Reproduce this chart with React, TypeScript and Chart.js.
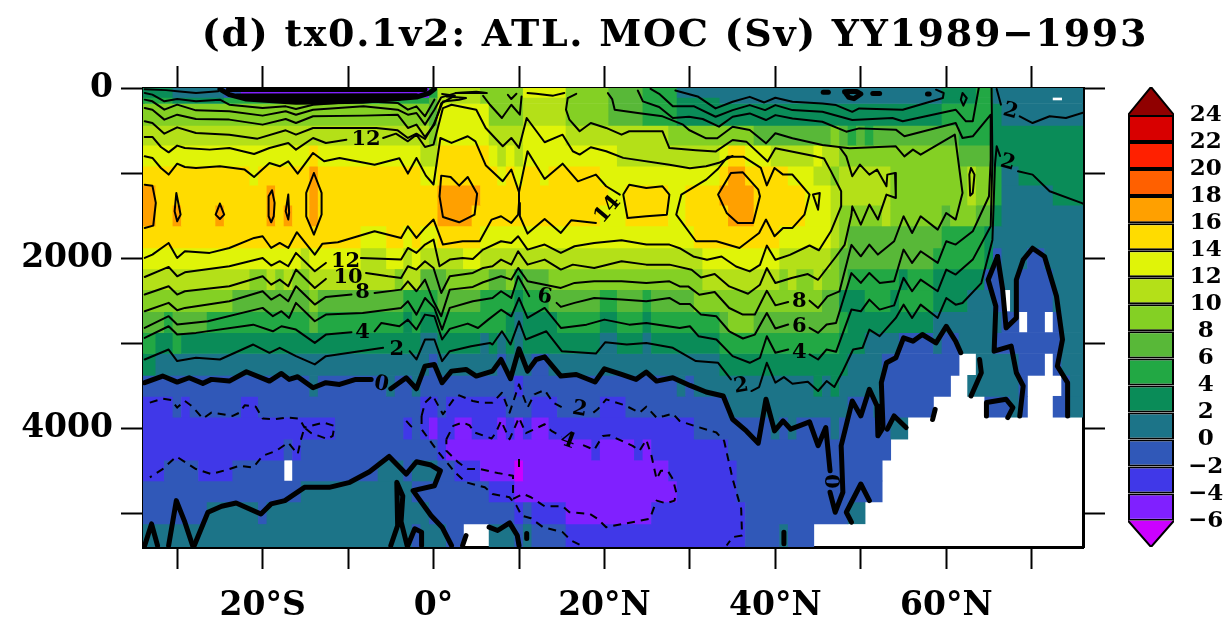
import React, { useEffect, useRef } from "react";
import { Chart, registerables } from "chart.js";

Chart.register(...registerables);

const titleText = "(d) tx0.1v2: ATL. MOC (Sv) YY1989\u22121993";
const lonTicks = [-30, -20, -10, 0, 10, 20, 30, 40, 50, 60, 70];
const lonLabels: Record<string, string> = { "-20": "20°S", "0": "0°", "20": "20°N", "40": "40°N", "60": "60°N" };
const depthTicks = [0, 1000, 2000, 3000, 4000, 5000];
const depthLabels = [0, 2000, 4000];
const colorLevels = [-6, -4, -2, 0, 2, 4, 6, 8, 10, 12, 14, 16, 18, 20, 22, 24];
const bandColors = ["#CC00FF", "#8020FF", "#4038E8", "#3058B8", "#1C7488", "#0A8C58", "#22A844", "#58B838", "#84D024", "#B4E018", "#E0F408", "#FFDC00", "#FFA000", "#FF6000", "#FF2000", "#D80000", "#900000"];

// depth edges of the model rows (m)
const rowEdges = [0, 111, 182, 440, 674, 920, 1143, 1377, 1623, 1881, 2127, 2373, 2631, 2877, 3124, 3381, 3627, 3873, 4131, 4377, 4623, 4870, 5127, 5400];

// each row: runs of [last longitude of the run, overturning value], null = below the sea floor
type Run = [number, number | null];
const rowCells: Run[][] = [
  [[-31,3],[-25,1],[-23,-1],[-1,-5],[0,5],[5,11],[10,9],[15,13],[20,9],[24,7],[28,5],[59,1],[63,3],[65,5],[76,1]],
  [[-31,5],[-25,3],[-1,5],[0,7],[5,11],[10,9],[15,11],[20,9],[24,7],[28,5],[33,3],[59,1],[63,3],[65,5],[76,1]],
  [[-1,9],[0,7],[6,13],[10,9],[15,11],[20,9],[24,7],[28,5],[59,3],[65,5],[66,3],[76,1]],
  [[-1,11],[0,9],[6,13],[10,11],[15,13],[27,11],[37,9],[46,7],[47,9],[48,7],[49,5],[50,7],[51,5],[61,7],[65,5],[76,3]],
  [[-15,13],[-14,15],[-2,13],[0,11],[6,15],[7,13],[8,11],[9,13],[10,11],[21,13],[33,11],[34,13],[36,15],[39,13],[44,11],[45,13],[47,11],[61,9],[65,7],[76,3]],
  [[-22,15],[-21,13],[-15,15],[-14,17],[-2,15],[0,13],[7,15],[8,13],[9,15],[10,13],[12,15],[13,13],[19,15],[33,13],[34,15],[36,17],[41,15],[44,13],[46,11],[47,9],[53,11],[62,9],[63,11],[65,9],[66,5],[68,1],[76,3]],
  [[-33,17],[-20,15],[-19,17],[-15,15],[-14,17],[0,15],[5,17],[20,15],[22,13],[27,15],[29,13],[33,15],[37,17],[43,15],[46,13],[53,11],[62,9],[63,11],[65,9],[66,5],[72,1],[76,3]],
  [[-33,17],[-31,15],[-30,17],[-26,15],[-25,17],[-20,15],[-19,17],[-18,15],[-17,17],[-15,15],[-14,17],[0,15],[4,17],[19,15],[22,13],[27,15],[29,13],[34,15],[37,17],[43,15],[46,13],[47,11],[52,9],[53,11],[59,9],[60,7],[63,9],[65,7],[66,3],[76,1]],
  [[-9,15],[-6,13],[-4,15],[-3,13],[-2,15],[0,13],[5,15],[30,13],[40,15],[46,13],[47,11],[48,9],[59,7],[64,5],[65,3],[76,1]],
  [[-16,13],[-15,11],[-9,13],[-6,11],[-4,13],[-3,11],[-2,13],[3,11],[5,13],[31,11],[40,13],[46,11],[47,9],[58,7],[64,5],[65,3],[66,-1],[69,1],[71,-1],[76,1]],
  [[-22,11],[-20,9],[-19,11],[-18,9],[-17,11],[-15,9],[-5,11],[-4,9],[-2,11],[1,7],[6,9],[8,7],[9,9],[10,5],[13,7],[31,9],[40,11],[41,9],[42,11],[44,9],[45,11],[47,9],[48,7],[54,5],[55,3],[58,5],[64,3],[66,-1],[68,1],[72,-1],[76,1]],
  [[-24,9],[-15,7],[-14,9],[-4,7],[0,5],[5,7],[9,5],[10,3],[13,5],[19,7],[21,5],[24,7],[25,5],[30,7],[45,9],[47,7],[50,3],[53,5],[54,3],[58,5],[62,3],[65,1],[66,-1],[67,null],[68,1],[72,-1],[76,1]],
  [[-32,7],[-31,5],[-27,7],[-15,5],[-14,7],[-4,5],[-3,3],[-2,5],[0,3],[8,5],[9,3],[10,1],[14,3],[19,5],[21,3],[24,5],[25,3],[33,5],[34,7],[37,9],[47,7],[48,5],[58,3],[66,1],[68,-1],[69,null],[71,-1],[72,null],[73,-1],[76,1]],
  [[-33,5],[-31,3],[-30,5],[-2,3],[0,1],[5,3],[6,1],[7,3],[8,1],[9,3],[10,1],[19,3],[21,1],[24,3],[25,1],[33,3],[47,5],[50,3],[54,1],[58,-1],[59,1],[61,-1],[65,1],[73,-1],[76,1]],
  [[-33,3],[-1,1],[0,-1],[7,1],[8,-1],[11,1],[13,-1],[33,1],[48,3],[52,1],[61,-1],[63,null],[68,1],[71,-1],[72,null],[73,-1],[76,1]],
  [[-15,-1],[-14,1],[-6,-1],[-5,1],[-3,-1],[-2,1],[9,-1],[10,-3],[28,-1],[29,1],[30,-1],[44,1],[45,3],[46,1],[47,3],[52,1],[60,-1],[62,null],[68,1],[69,-1],[73,null],[74,-1],[76,1]],
  [[-31,-3],[-30,-1],[-29,-3],[-23,-1],[-21,-3],[-2,-1],[0,-3],[1,-1],[8,-3],[11,-1],[14,-3],[19,-1],[22,-3],[34,-1],[48,1],[51,-1],[52,1],[58,-1],[64,null],[67,-1],[68,1],[69,-1],[72,null],[74,-1],[76,1]],
  [[-12,-3],[-4,-1],[-3,-3],[-2,-1],[-1,-3],[0,-5],[2,-3],[4,-5],[7,-3],[8,-5],[9,-3],[10,-5],[11,-3],[13,-5],[30,-3],[39,-1],[40,1],[41,-1],[42,1],[46,-1],[47,1],[53,-1],[55,1],[76,null]],
  [[-18,-3],[-17,-1],[-16,-3],[0,-1],[1,-3],[18,-5],[19,-3],[23,-5],[24,-3],[25,-5],[34,-3],[53,-1],[76,null]],
  [[-32,-3],[-28,-1],[-24,-3],[-18,-1],[-17,null],[-7,-1],[-4,1],[-3,-1],[0,1],[2,-1],[5,-3],[9,-5],[10,-7],[27,-5],[35,-3],[52,-1],[76,null]],
  [[-16,-1],[-3,1],[6,-1],[9,-3],[28,-5],[35,-3],[52,-1],[76,null]],
  [[-27,-1],[-21,1],[-20,-1],[-1,1],[9,-1],[10,-3],[11,-1],[15,-3],[25,-5],[36,-3],[48,-1],[50,1],[76,null]],
  [[-3,1],[-2,-1],[1,1],[3,-1],[6,null],[9,1],[10,-1],[11,1],[15,-1],[36,-3],[40,-1],[41,1],[44,-1],[76,null]],
];

// a missing sliver near the surface: lon from, lon to, depth
const missingSliver = [72.5, 73.5, 129];

// contour lines as flat [lon, depth, lon, depth, ...]
const solidContours: number[][] = [
  // 14 west of 10N
  [-33.8,804,-32.9,823,-31.9,941,-31,1019,-30,890,-29.1,929,-27.8,941,-25,921,-22.1,960,-21,1047,-19.2,882,-18,921,-17,862,-15.9,1007,-14.1,764,-12.8,862,-11,823,-6.9,902,-4,827,-3,1007,-2,823,-0.9,1031,0,1135,0.8,588,2.1,646,4,568,4.9,627,6.1,908,8.1,1096,9.1,959,10,1225,10,1352,9.9,1490,9.1,1588,7.9,1509,6.8,1548,5.4,1803,3.4,1803,1.1,1842,0.3,1627,0,1548,-1,1646,-2,1764,-3,1627,-3.8,1764,-6.9,1686,-11.2,1815,-13,1831,-13.9,1960,-16,1697,-17,1882,-18,1823,-19,1882,-20,1744,-21,1764,-23.9,1882,-26.2,1940,-29.1,1921,-30,1999,-31,1823,-32.9,1960,-33.8,1999],
  // 14 east of 10N
  [21.8,1254,20.2,1156,19,1019,16.9,1098,15.1,890,13,1070,11,745,10,1225],
  [10,1352,10.1,1509,11,1713,13,1541,14.9,1705,16.1,1556,19,1588],
  [22.2,1254,22.9,1137,24.9,1176,26.8,1156,27.6,1254,27.3,1490,24.9,1509,22.7,1529,22.2,1254],
  [28.4,1490,29,1254,31.9,1078,33.3,950,34.4,810,36.3,810,38.3,939,39,1146,39.9,941,40.9,1019,42,1019,44,1254,43.4,1490,42,1646,40.9,1646,39.9,1744,38.9,1548,38.1,1705,35.8,1882,33.1,1803,30.7,1803,28.4,1490],
  // 16 patches
  [-33.8,1137,-32.9,1149,-32.5,1352,-32.8,1619,-33.8,1646],
  [-30.1,1235,-29.6,1490,-30,1568,-30.3,1450,-30.1,1235],
  [-25,1360,-24.5,1490,-25,1541,-25.5,1490,-25,1360],
  [-18.9,1203,-18.6,1352,-18.7,1509,-19,1580,-19.3,1509,-19.3,1274,-18.9,1203],
  [-17,1254,-16.9,1470,-17,1548,-17.3,1450,-17,1254],
  [-14,1000,-13.1,1235,-13.1,1490,-14,1725,-14.9,1509,-14.9,1235,-14,1000],
  [0.9,1031,2,1047,3,1149,4,1047,5.1,1243,4.8,1490,3,1580,1.1,1517,0.7,1274,0.9,1031],
  [33.3,1254,34.8,1000,36.2,992,38,1196,38.2,1274,37.4,1588,35.6,1588,34.3,1470,33.3,1254],
  [44.4,1254,45.2,1235,45,1431,44.4,1254],
  [62.9,941,63.3,1019,63.1,1235,62.8,1266,62.7,1019,62.9,941],
  // 12
  [-33.8,576,-32.9,576,-31.9,694,-31,757,-30,678,-29.1,706,-26.2,725,-23.9,706,-21,776,-19.2,706,-17,647,-16.1,725,-14.1,588,-12.6,647,-10.2,608],
  [-5.9,588,-4.4,537,-3,627,-2,549,-1,694,0,666,0.8,353,1.1,236,2.1,197,5,255,6.1,470,8.1,685,9.1,588,10,705,10.9,353,13,638,15.1,549,16.3,744,17.1,783,18.4,697,20.2,744,22.2,822,27.6,902,30,945,31.9,920,33.4,880,35,800],
  [16.7,68,15.7,119,15.5,255,15.9,373,17.1,509,18.4,412,20.2,470,22,549,22.9,509,26.8,510,27.6,706,30.7,733,33,748,35,612,36.6,631,39.1,865,40,709,44.8,807,45.7,830,46.5,978,47.7,1215,47.7,1392,46.5,1686,45.1,1909,44,1853,41.7,1963,40,2021,39,1853,38.2,2080,37,2158,35.4,2100,33.7,1982,32,2021,30.4,1982,28.8,1885,27.6,1842,24.9,1842,22,1791,18.8,1823,16.5,1862,14.9,1940,13,1842,11,1901,9.9,1744,9.1,1823,7.9,1803,5.8,1901,4.6,2011,3.4,1999,1.9,2019,0.7,2097,0,1784,-1,1842,-2,1940,-3,1882,-3.8,2019,-5.3,2011,-8.5,1999],
  [-12.6,2058,-13.9,2156,-16.1,1940,-17,2097,-18,2038,-19,2089,-20,1999,-23.9,2097,-29.1,2168,-30,2215,-31,2105,-33.8,2223],
  // 10
  [-33.8,392,-32.9,412,-31.5,537,-30,463,-27.8,529,-23.9,549,-20.6,596,-17.3,498,-16.1,549,-14.1,470,-10.2,470,-6.7,470,-4.2,498,-3,588,-2,537,-1,600,0,431,0.5,314,1.1,158,3,138,3.8,119,1.5,99],
  [47.5,694,48.3,804,49,1039,49.9,902,51,1019,51.9,960,53,1156,53.1,1019,54,1000,54.1,1294,53,1254,52,1548,51,1372,50,1607,49,1392,48.9,1494,48.1,1846,47.1,1982,45,2256,43.8,2189,41.9,2236,40,2295,39,2119,38.2,2314,36.8,2420,34.6,2334,32.9,2189,31.3,2229,30.2,2139,27.6,2078,24.9,2078,22,2038,18.8,2117,16.3,2078,14.9,2136,13,2019,11,2078,9.9,1921,9.1,2078,7.9,2019,6.9,2097,5.8,2117,4.6,2176,1.9,2215,0.9,2411,0,2117,-1,2038,-2,2136,-3,2097,-3.8,2234,-5.3,2215,-7.9,2176],
  [-12.6,2246,-13.9,2352,-16.1,2136,-17,2332,-18,2254,-19,2313,-20,2215,-23.9,2332,-29.1,2391,-30,2430,-31,2332,-33.8,2430],
  // 8
  [-33.8,235,-32.9,255,-31.5,372,-30,314,-27.8,365,-23.9,372,-20,431,-17.3,365,-16.1,412,-14.1,333,-8.2,325,-4.2,314,-3,470,-2,431,-1,576,0.1,431,0.9,180,2.5,90,1,70],
  [20.4,60,20.9,130,21.2,255,23.9,294,26.8,333,29.2,431,29.9,494,31.9,592,33.2,592,35,455,37,494,38.9,651,40,533,42,592,45.5,670,48.7,709,54.1,686,55.1,804,56.1,725,57,784,61,549,61.9,1235,61.1,1548,60,1470,59,1666,57,1509,56,1705,55,1509,53.9,1803,52,1960,51,1842,50,1980,48.9,1846,47.5,2393,46.1,2451,45,2588,44,2502],
  [41.5,2518,40,2557,39,2385,37.6,2666,36.2,2666,34.6,2588,32.9,2400,31.1,2432,29.8,2334,28.8,2334,27.6,2274,24.9,2293,22,2274,18.8,2274,16.5,2293,14.9,2352,11,2274,9.9,2117,9.1,2254,7.9,2215,5.8,2285,4.6,2340,1.9,2372,0.9,2685,0,2509,-1,2254,-2,2391,-3,2274,-3.8,2372,-6.9,2411],
  [-9.6,2430,-12.6,2458,-13.9,2548,-16.1,2332,-17,2509,-18,2430,-19,2489,-20,2391,-23.9,2509,-29.1,2587,-30,2615,-31,2528,-33.8,2626],
  // 6
  [-33.8,137,-32.9,157,-31.5,255,-30,196,-27.8,263,-23.9,274,-20,325,-17.3,274,-16.1,314,-14.1,255,-8.2,216,-4.2,255,-3,314,-2,294,-1,431,0.1,255,0.9,110,2.6,60,4.8,55,6.2,60],
  [-33.8,2822,-31,2685,-30,2783,-26.4,2744,-20,2587,-18.8,2685,-17.8,2626,-16.9,2705,-16.1,2528,-13.9,2744,-12.6,2666,-8.3,2646,-3.8,2587,-3,2509,-2,2666,-1,2470,0.1,2587,1,2842,1.9,2587,4.6,2509,6.9,2470,7.9,2391,9.1,2470,9.9,2215,11.2,2450],
  [14.4,2528,14.9,2575,16.5,2528,18.8,2470,22,2489,24.9,2509,27.6,2470,28.8,2541,30,2541,31.3,2666,33.1,2686,34.6,2862,36.2,2947,37.6,2901,39,2647,40,2830,41.5,2783],
  [44,2822,45,2881,46,2783,47.1,2764,48.9,2178,50,2293,51,2176,52.2,2293,53.9,2274,55,1901,56,2058,57,1921,59,2058,60,1803,61.1,1842,63.1,1686,65,1274,65.2,843,65.2,314,63.1,568,61.9,588,61.1,412,55.1,568,54.1,490,49.8,475,48.3,514,45.5,397,42,358,40,319,38.9,377,37,299,35,338,33.4,455,31.5,365,29.9,338,28,353,26.4,224,24.5,157,23.9,30],
  // 4
  [-33.8,59,-32.9,78,-31.5,157,-30,129,-27.8,157,-25,137,-23.9,196,-20,235,-17.3,216,-16.1,247,-14.1,196,-8.2,157,-4.2,176,-3,255,-2,216,-1,333,0.1,137],
  [-33.8,2940,-31,2803,-30,2901,-27.8,2881,-21.1,2784,-18.8,2862,-17.8,2803,-16.1,2842,-13.9,2999,-12.6,2901,-9.6,2873],
  [-6.9,2862,-6.1,2764,-4,2803,-3,2725,-2,2842,-1,2666,0.1,2686,1,2959,1.9,2834,4,2772,5.2,2823,6.4,2725,7.9,2608,9.1,2686,10,2471,11,2705,13,2588,14.9,2823,17.9,2784,20,2725,22.9,2784,24.9,2764,28.8,2823,30,2803,31,2920,33.1,2959,35,3154,37,3233,38.2,3174,39,2920,40,3115,41.5,3076],
  [44,3135,45,3194,46,3076,47.1,3104,48.9,2607,50,2627,51,2490,52.2,2607,53.9,2557,55,2234,56,2391,57,2254,59,2391,60,2136,61.1,2195,63.1,2019,65.2,1627,65.4,843,65.3,0],
  [25.4,10,26.4,68,28,216,30.5,216,33,338,35,260,37,201,38.8,260,40,201,42,260,45.5,280,49,377,53.7,353,54.9,392,61.1,255,62.3,392,63.1,392,63.8,0],
  // 2
  [-33.8,15,-31.3,25,-30,39,-27.8,59,-25.2,39],
  [-33.8,3194,-31,3077,-30,3213,-27.8,3174,-25,3194,-21.1,3018,-19.2,3116,-18,3057,-16.1,3155,-13.9,3252,-12.6,3155,-5.9,3057],
  [-2.8,3096,-2,3194,-1,2959,0.1,2959,1,3213,1.9,3096,4.4,3038,6.6,2999,6.9,3018,8,2862,9,3018,10,2745,10.8,2959,13.2,2862,15,3096,19,3124,20.1,2991,22.6,3018,24.9,2999,28,3057,30.7,3213,33.3,3233,34.8,3428],
  [37.2,3565,38.1,3518,39,3233,40,3467,41,3401,42,3479,43.8,3455,45,3565,46,3448,46.9,3518,47.9,3330,49.1,3076,50.2,3057,51,2842,52.2,2920,54.1,2705,55,2549,56,2705,57,2549,59,2705,60,2471,61.1,2549,61.9,2529,64.1,2295,65.4,1787,65.7,900,65.9,686,66.3,800],
  [68.4,980,70.1,1019,72.1,1215,75.8,1352,76,1360],
  [65.9,12,66.4,196],
  [68.6,333,70.1,412,72.1,333,74,353,76,290],
  [28.3,29,30.9,99,33,240,35,162,37,104,38.7,170,40,115,42,162,45.5,182,47.1,201,49,280,49.8,240,54.9,255,59.6,118,59.7,59,58.8,20],
  [61.9,59,62.4,118,62,208,61.7,137,61.9,59],
  // surface patches east of the equator
  [5.8,92,6.6,197,8,353,9.1,197,10.1,314,10.3,99],
  [8.7,80,9.1,130,9.7,68],
  [11,59,12,67,14,90,15.3,59],
  [2.6,60,5,45,6.2,60],
];

const zeroContours: number[][] = [
  [-33.8,3467,-31.7,3389,-30,3460,-28.6,3409,-27,3475,-26,3428,-23.9,3448,-21.9,3338,-19.2,3448,-17.8,3358,-16.9,3428,-15.9,3397,-14.1,3526,-12.6,3467,-11,3487,-9.1,3428,-7.3,3428],
  [-5,3538,-3.2,3409,-2,3538,-1,3272,0.1,3252,1,3467,2.1,3331,3.8,3311,5,3389,6.9,3331,7.9,3194,9,3420,10,3069,11,3331,12,3194,13,3163,14.9,3389,16.7,3370,18.9,3459,20,3303,22,3370,23.7,3428,24.9,3342,26.1,3448,28,3409,30,3499,31.9,3577,33.9,3624,35,3897,36.6,4034,38,4178,38.9,3662,39.9,4034,40.9,3916,41.8,4014,44,3928,45,4209,45.9,3995,46.4,4502],
  [46.4,4756,47,4991,47.9,4756,47.7,4209,49,3682,50,3858,51,3545,51.9,3741,52,4092,52.6,3995,52.4,3467,53,3233,54.1,3174,55,2940,56.1,2979,57.2,2900,58.8,2998,60,2803,61.1,2979,61.7,3115],
  [63.9,3194,64.1,3350,62.9,3623],
  [58.4,3900,58.7,3780],
  [64.7,3858,64.7,3701,67,3662,67.8,3760,67.2,3877],
  [66,1982,64.9,2256,65.8,2568,65.6,3096,67.6,3037,68.2,3350,69,3506,68.6,3858],
  [66,1982,66.6,2373,67,2822,68.2,2705,68.2,2256,69,2021,70.1,1885,71.5,1982,72.9,2451,73.6,2959,73,3272,74.2,3467,74.2,3858],
  [53.1,4014,53.9,3858,55.3,3995],
  [48.9,5108,48.3,4991,50,4659,51,4854],
  [41,5225,41,5362],
  [-33.8,5382,-33,5128,-32.3,5382],
  [-31,5382,-30.1,4854,-29.1,5108,-28.2,5382],
  [-28,5382,-26.4,4991,-24.8,4921,-23.1,4882,-20.2,5011,-19,4893,-17.4,4854,-15.1,4698,-12.2,4698,-9.8,4639,-7.5,4514,-5.2,4335,-3.2,4542,-2,4397,-0.3,4436,0.8,4503,0.1,4679,-2.4,4737,-0.3,5030,1,5167,2.1,5382],
  [-5,5382,-4.2,5147,-4.3,4639,-3.6,4800,-3.8,5100,-3.1,5382],
  [-3,5382,-2.2,5186,-1.4,5225,-1.4,5382],
  [3.4,5382,3.8,5265],
  [6.5,5167,7.5,5206,8.9,5116,9.8,5265,10,5382],
  [10.9,5240,10.9,5300],
  // surface ring
  [-25,12,-23.9,78,-21.9,129,-16.1,169,-8.3,157,-2,106,-0.5,59,0.1,12],
  [-24,18,-1,18],
  [-23,95,-2,90],
  [-19,125,-4,120],
  // small surface cells
  [45.6,50,46.2,50],
  [48.1,45,48.6,110,49.2,125,50,70,49.5,40,48.5,40,48.1,45],
  [51.4,65,52.2,65],
  [57.8,70,58,70],
];

const dashedContours: number[][] = [
  [-33.2,3702,-31.7,3655,-30.7,3670,-30,3760,-29.1,3682,-28.2,3749,-27,3889,-26,3819,-23.5,3858,-22.7,3819,-22.1,3733,-20.8,3749,-20,3889,-18.6,3897,-17.2,3878,-15.7,3889,-15.1,3995,-12.9,3936,-11.6,3975,-11.8,4092,-12.4,4131,-14.3,4061,-15.1,3995,-15.5,4131,-15.9,4307,-17,4171,-18.4,4268,-20,4327,-21.1,4464,-22.7,4444,-23.9,4483,-26,4542,-27.8,4483,-30.1,4335,-31.7,4483,-33.2,4581],
  [-1.4,3858,-1,3702,-0.1,3616,1.1,3838,2.5,3643,3,3616,4.6,3682,5.6,3702,6.9,3702,8,3585,8.9,3819,10,3487,11,3760,11.8,3604,13,3553,14,3702,15.5,3780],
  [18.7,3819,19.2,3780,20.2,3663,22.4,3733,24.1,3819,24.9,3749,26.1,3878,27,3858,28,3831,28.8,3917,30.5,3975,33.1,4053,34,4151,35,4600,36,4952,36.1,5265,35,5284,34.3,5382],
  [-1.4,3858,-1.4,4014,0.3,4249,2.5,4522,3.8,4639,6,4698,6.9,4776,8.9,4815,9.7,4913,10.3,5030,11.4,5061,12.8,5167,15.1,5225,16.1,5323,17.3,5382],
  [-3.2,3917,-2.6,3983,-3.2,4014],
  [1.5,4132,2.3,3975,3.4,3936,4.2,3967,4.8,4053,6.8,4124,7.3,4053,7.9,3917,8.9,4132,10,3878,10.8,4061,13,3956,13.8,4034,15,4100],
  [17.5,4202,18.8,4257,19.8,4093,20.6,4085,23.3,4210,24.1,4268,24.9,4139,25.5,4327,26.1,4600,26.6,4503,27.4,4503,28,4600,28.4,4757,28.2,4854,27.2,4886,26.1,4854,25.3,5069,23.7,5100,20.2,5167,19.2,5069,18.3,5011,15.9,4991,15.1,4921,13,4921,11.4,4815,10.5,4776,9.3,4835,9.3,4561,7.5,4530,5.4,4483,4,4483,2.9,4405,1.5,4268,1.5,4132],
  [10,4366,10,4522],
];

// contour labels: text, lon, depth, rotation in degrees
const contourLabels: [string, number, number, number][] = [
  ["12", -7.9, 608, 0],
  ["12", -10.3, 2038, 0],
  ["10", -10, 2234, 0],
  ["8", -8.3, 2411, 0],
  ["4", -8.3, 2873, 0],
  ["2", -4.3, 3077, 0],
  ["0", -6.1, 3487, 10],
  ["14", 20.4, 1431, -50],
  ["6", 13, 2458, 10],
  ["8", 42.8, 2518, 0],
  ["6", 42.8, 2803, 0],
  ["4", 42.8, 3115, 0],
  ["2", 36, 3506, -10],
  ["2", 17.1, 3780, 10],
  ["4", 15.7, 4151, 20],
  ["2", 67.5, 274, 15],
  ["2", 67.2, 882, 15],
  ["0", 46.4, 4627, 90],
];

const toPoints = (flat: number[]) => {
  const pts: { x: number; y: number }[] = [];
  for (let i = 0; i + 1 < flat.length; i += 2) pts.push({ x: flat[i], y: flat[i + 1] });
  return pts;
};

const colorOf = (v: number) => bandColors[Math.floor((v + 6) / 2) + 1];

const SERIF = "'DejaVu Serif', serif";
const PLOT = { left: 143, right: 1083, top: 88, bottom: 547 };

const mainPlugin = {
  id: "mainText",
  afterDraw(chart: any) {
    const { ctx, scales } = chart;
    ctx.save();
    ctx.fillStyle = "#000";
    ctx.textAlign = "center";
    ctx.textBaseline = "middle";
    ctx.font = `bold 21px ${SERIF}`;
    for (const [t, lon, d, rot] of contourLabels) {
      ctx.save();
      ctx.translate(scales.x.getPixelForValue(lon), scales.y.getPixelForValue(d));
      ctx.rotate((rot * Math.PI) / 180);
      ctx.fillText(t, 0, 0);
      ctx.restore();
    }
    ctx.font = `bold 38px ${SERIF}`;
    ctx.letterSpacing = "1.7px";
    ctx.fillText(titleText, 675, 36);
    ctx.restore();
  },
};

function makeMain(canvas: HTMLCanvasElement) {
  const pxPerMetre = (PLOT.bottom - PLOT.top) / 5400;
  const datasets: any[] = [];
  rowCells.forEach((runs, r) => {
    const top = rowEdges[r];
    const bottom = rowEdges[r + 1];
    const data: any[] = [];
    const colors: string[] = [];
    let prev = -34.5;
    for (const [last, v] of runs) {
      if (v !== null) {
        data.push({ x: [prev, last + 0.5], y: (top + bottom) / 2 });
        colors.push(colorOf(v));
      }
      prev = last + 0.5;
    }
    datasets.push({
      type: "bar", indexAxis: "y", data, backgroundColor: colors, borderWidth: 0,
      barThickness: (bottom - top) * pxPerMetre, grouped: false, order: 3, xAxisID: "x", yAxisID: "y",
    });
  });
  datasets.push({
    type: "bar", indexAxis: "y", data: [{ x: [missingSliver[0], missingSliver[1]], y: missingSliver[2] }],
    backgroundColor: "#fff", borderWidth: 0, barThickness: 2, grouped: false, order: 2, xAxisID: "x", yAxisID: "y",
  });
  const line = (flat: number[], width: number, dash?: number[]) => ({
    type: "line", data: toPoints(flat), borderColor: "#000", borderWidth: width, borderDash: dash ?? [],
    pointRadius: 0, tension: 0, fill: false, order: 1, xAxisID: "x", yAxisID: "y",
    borderJoinStyle: "round", borderCapStyle: dash ? "butt" : "round",
  });
  solidContours.forEach((c) => datasets.push(line(c, 2)));
  zeroContours.forEach((c) => datasets.push(line(c, 5)));
  dashedContours.forEach((c) => datasets.push(line(c, 2, [8, 6])));

  const tick = { color: "#000", font: { family: SERIF, size: 33, weight: "bold" as const }, autoSkip: false, maxRotation: 0, minRotation: 0 };
  const grid = { drawOnChartArea: false, drawTicks: true, tickLength: 22, tickWidth: 2, tickColor: "#000", offset: false };
  const border = { display: true, color: "#000", width: 3 };
  const setLon = (s: any) => { s.ticks = lonTicks.map((value) => ({ value })); };
  const setDepth = (s: any) => { s.ticks = depthTicks.map((value) => ({ value })); };

  return new Chart(canvas, {
    type: "bar",
    data: { datasets },
    plugins: [mainPlugin],
    options: {
      responsive: false, animation: false, devicePixelRatio: 1,
      layout: { padding: 0 },
      plugins: { legend: { display: false }, title: { display: false }, tooltip: { enabled: false } },
      scales: {
        x: {
          type: "linear", position: "bottom", offset: false, min: -34, max: 76, afterBuildTicks: setLon,
          afterFit: (s: any) => { s.height = 621 - PLOT.bottom; },
          ticks: { ...tick, padding: 18, callback: (v: any) => lonLabels[String(v)] ?? "" },
          grid, border,
        },
        x2: {
          type: "linear", position: "top", offset: false, min: -34, max: 76, afterBuildTicks: setLon,
          afterFit: (s: any) => { s.height = PLOT.top; },
          ticks: { ...tick, font: { size: 1 }, callback: () => "" },
          grid, border,
        },
        y: {
          type: "linear", position: "left", offset: false, reverse: true, min: 0, max: 5400, afterBuildTicks: setDepth,
          afterFit: (s: any) => { s.width = PLOT.left; },
          ticks: { ...tick, padding: 8, callback: (v: any) => (depthLabels.includes(v) ? String(v) : "") },
          grid, border,
        },
        y2: {
          type: "linear", position: "right", offset: false, reverse: true, min: 0, max: 5400, afterBuildTicks: setDepth,
          afterFit: (s: any) => { s.width = 1228 - PLOT.right; },
          ticks: { ...tick, font: { size: 1 }, callback: () => "" },
          grid, border,
        },
      },
    } as any,
  });
}

function makeBar(canvas: HTMLCanvasElement) {
  const datasets: any[] = [];
  for (let i = 0; i + 1 < colorLevels.length; i++) {
    datasets.push({
      type: "bar", data: [{ x: 0.5, y: [colorLevels[i], colorLevels[i + 1]] }],
      backgroundColor: bandColors[i + 1], borderColor: "#000", borderWidth: 2, borderSkipped: false,
      barThickness: 46, grouped: false, order: 2, inflateAmount: 0,
    });
  }
  const low = colorLevels[0];
  const high = colorLevels[colorLevels.length - 1];
  const tri = (base: number, apex: number, color: string) => ({
    type: "line", data: [{ x: 0, y: base }, { x: 0.5, y: apex }, { x: 1, y: base }],
    backgroundColor: color, borderColor: "#000", borderWidth: 2, pointRadius: 0, tension: 0,
    fill: { value: base }, order: 1,
  });
  datasets.push(tri(high, 26.07, bandColors[16]));
  datasets.push(tri(low, -7.95, bandColors[0]));
  return new Chart(canvas, {
    type: "bar",
    data: { datasets },
    options: {
      responsive: false, animation: false, devicePixelRatio: 1,
      layout: { padding: { left: 28, top: 87, bottom: 74, right: 0 } },
      plugins: { legend: { display: false }, tooltip: { enabled: false } },
      scales: {
        x: { type: "linear", offset: false, min: 0, max: 1, display: false, grid: { offset: false } },
        y: {
          type: "linear", position: "right", offset: false, min: -7.95, max: 26.07,
          afterBuildTicks: (s: any) => { s.ticks = colorLevels.map((value) => ({ value })); },
          afterFit: (s: any) => { s.width = 54; },
          grid: { display: false, drawTicks: false, offset: false },
          border: { display: false },
          ticks: {
            color: "#000", padding: 14, crossAlign: "center", autoSkip: false,
            font: { family: SERIF, size: 23, weight: "bold" },
            callback: (v: any) => String(v).replace("-", "\u2212"),
          },
        },
      },
    } as any,
  });
}

export default function App() {
  const mainRef = useRef<HTMLCanvasElement>(null);
  const barRef = useRef<HTMLCanvasElement>(null);
  useEffect(() => {
    const a = makeMain(mainRef.current!);
    const b = makeBar(barRef.current!);
    return () => { a.destroy(); b.destroy(); };
  }, []);
  return (
    <div style={{ position: "absolute", left: 0, top: 0, width: 1228, height: 621, background: "#fff", overflow: "hidden" }}>
      <canvas ref={mainRef} width={1228} height={621} style={{ position: "absolute", left: 0, top: 0 }} />
      <canvas ref={barRef} width={128} height={621} style={{ position: "absolute", left: 1100, top: 0 }} />
    </div>
  );
}
